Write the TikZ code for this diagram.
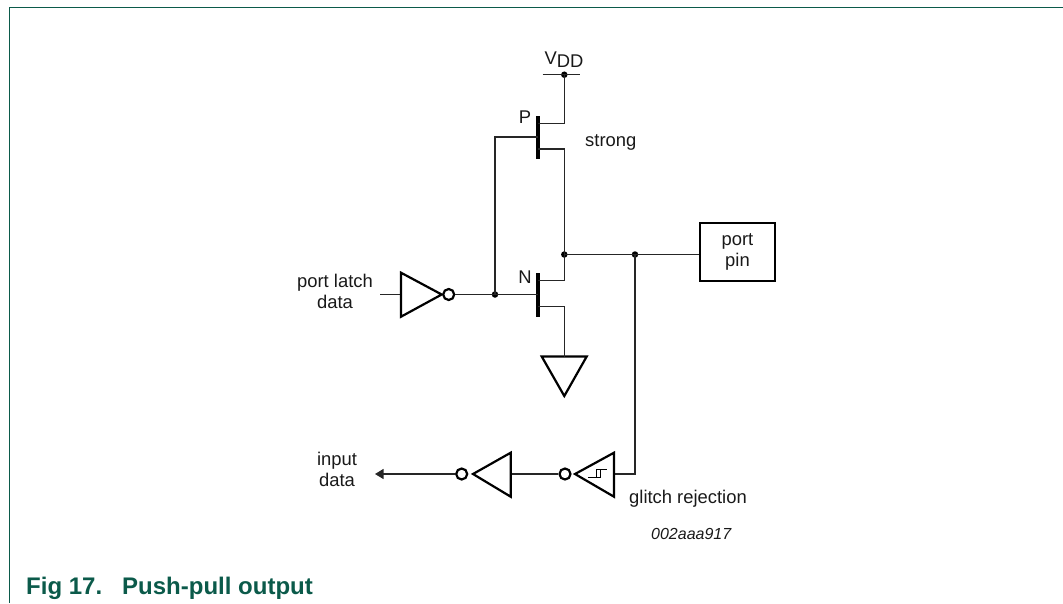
\documentclass[tikz,border=0pt]{standalone}
\usepackage{fontspec}
\setmainfont{Liberation Sans}
\usetikzlibrary{arrows.meta}
\definecolor{nxp}{HTML}{0B5A4A}
\tikzset{
  wire/.style={line width=1.1pt,draw=black!85},
  thick wire/.style={line width=2.2pt,draw=black},
  fetbar/.style={line width=3.2pt,draw=black},
  dotnode/.style={circle,fill=black,inner sep=0pt,minimum size=6.5pt},
  bubble/.style={circle,draw=black,line width=2.2pt,fill=white,inner sep=0pt,minimum size=11pt},
  lbl/.style={font=\fontsize{18.4}{21}\selectfont,inner sep=0pt,align=center,text=black!90},
  framel/.style={line width=1.2pt,draw=nxp},
}
\begin{document}
\begin{tikzpicture}[x=1pt,y=-1pt]
\useasboundingbox (0,0) rectangle (1063,603);
% frame
\coordinate (fa) at (1063,7.5);
\coordinate (fb) at (9.5,7.5);
\coordinate (fc) at (9.5,603);
\draw[framel] (fa) -- (fb) -- (fc);
\node[anchor=base west,inner sep=0pt,font=\fontsize{24}{28}\selectfont\bfseries,text=nxp] (cap) at (26,594.5) {Fig 17.\hspace{20pt}Push-pull output};
% junctions
\node[dotnode] (vdd) at (564.3,74.7) {};
\node[dotnode] (j1) at (564.3,254.5) {};
\node[dotnode] (j2) at (635,254.5) {};
\node[dotnode] (j3) at (495,294.5) {};
\coordinate (vl) at (542.7,74.7);
\coordinate (vr) at (580,74.7);
\draw[wire] (vl) -- (vr);
% P FET
\coordinate (pt) at (538,116);
\coordinate (pb) at (538,158.5);
\draw[fetbar] (pt) -- (pb);
\coordinate (ps) at (538,123.3);
\coordinate (pd) at (538,149);
\coordinate (pg) at (538,137);
\draw[wire] (vdd.center) |- (ps);
\draw[wire] (pd) -| (j1.center);
\draw[wire] (pg) -| (j3.center);
% N FET
\coordinate (nt) at (538,273);
\coordinate (nb) at (538,316.5);
\draw[fetbar] (nt) -- (nb);
\coordinate (nd) at (538,280.7);
\coordinate (ns) at (538,306.7);
\draw[wire] (nd) -| (j1.center);
\draw[wire] (j3.center) -- (538,294.5);
% ground
\coordinate (g1) at (564.3,356.5);
\draw[thick wire,line join=miter] (541.7,356.5) -- (586.7,356.5) -- (564.3,396) -- cycle;
\draw[wire] (ns) -| (g1);
% output
\node[draw=black,line width=2.4pt,minimum width=75pt,minimum height=58pt,inner sep=0pt,lbl,anchor=center] (pin) at (737.5,252) {port\\pin};
\draw[wire] (j1.center) -- (pin.west |- j1);
% input inverter
\coordinate (inst) at (380,294.5);
\coordinate (i1) at (401,294.5);
\draw[wire] (inst) -- (i1);
\draw[thick wire] (401,272.7) -- (441.7,294.5) -- (401,316.7) -- cycle;
\node[bubble] (b1) at (448.7,294.5) {};
\draw[wire] (b1) -- (j3.center);
% lower inverters
\coordinate (c2) at (635,474);
\coordinate (t2r) at (614,474);
\coordinate (t1r) at (510.7,474);
\draw[wire] (j2.center) -- (c2) -- (t2r);
\draw[thick wire] (614,452.7) -- (575,474) -- (614,496.7) -- cycle;
\node[bubble] (b2) at (565,474) {};
\draw[wire] (b2) -- (t1r);
\draw[thick wire] (510.7,452.7) -- (473,474) -- (510.7,496.7) -- cycle;
\node[bubble] (b3) at (461.7,474) {};
\coordinate (arr) at (375,474);
\draw[wire,-{Triangle[length=8.5pt,width=10pt]}] (b3) -- (arr);
% hysteresis
\draw[line width=.8pt] (588,477.7) -- (600.7,477.7) -- (600.7,469.3) -- (607,469.3);
\draw[line width=.8pt] (596,477.7) -- (596,469.3) -- (600.7,469.3);
% labels
\node[lbl,anchor=base] (lvdd) at (564,64) {V\raisebox{-3pt}{DD}};
\node[lbl,anchor=center] (lp) at (525,117) {P};
\node[lbl,anchor=base west] (lstrong) at (585,146) {strong};
\node[lbl,anchor=center] (ln) at (525,277) {N};
\node[lbl,anchor=center] (lin) at (335,291) {port latch\\data};
\node[lbl,anchor=center] (lout) at (337,469) {input\\data};
\node[lbl,anchor=base west] (lg) at (629,503) {glitch rejection};
\node[lbl,anchor=base west,font=\fontsize{16}{19}\selectfont\itshape] (lid) at (651,539) {002aaa917};
\end{tikzpicture}
\end{document}
